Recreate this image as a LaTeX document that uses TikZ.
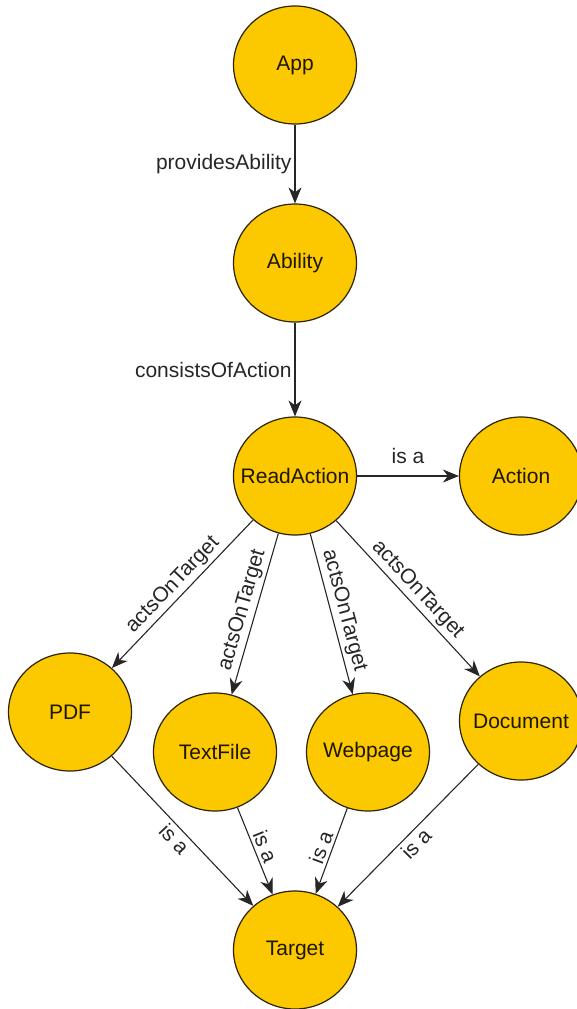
\documentclass[tikz,border=0pt]{standalone}
\usepackage{fontspec}
\setmainfont{Liberation Sans}
\usetikzlibrary{shapes.geometric,arrows.meta}
\definecolor{gold}{RGB}{252,200,0}
\definecolor{rim}{RGB}{45,35,5}
\definecolor{ink}{RGB}{30,22,0}
\newcommand{\nodelbl}[1]{\makebox[0pt]{#1}}
\tikzset{
  concept/.style={ellipse, draw=rim, fill=gold, line width=1.2pt,
    minimum width=123pt, minimum height=118pt, inner sep=0pt,
    text=ink, font=\fontsize{21}{25}\selectfont},
  rel/.style={draw=black!85, line width=1.1pt,
    -{Stealth[length=16pt,width=13pt,inset=5pt]}},
  lbl/.style={font=\fontsize{21}{25}\selectfont, text=black!85, inner sep=3pt}
}
\begin{document}
\begin{tikzpicture}[x=1pt,y=-1pt]
\useasboundingbox (0,0) rectangle (577,1009);
\node[concept] (app) at (295,65) {\nodelbl{App}};
\node[concept] (ability) at (295,263) {\nodelbl{Ability}};
\node[concept] (read) at (295,476) {\nodelbl{ReadAction}};
\node[concept] (action) at (521,476) {\nodelbl{Action}};
\node[concept] (pdf) at (70,712) {\nodelbl{PDF}};
\node[concept] (text) at (215,752) {\nodelbl{TextFile}};
\node[concept] (web) at (368,752) {\nodelbl{Webpage}};
\node[concept] (doc) at (521,721) {\nodelbl{Document}};
\node[concept] (target) at (295,950) {\nodelbl{Target}};

\draw[rel] (app) -- node[lbl, midway, left] {providesAbility} (ability);
\draw[rel] (ability) -- node[lbl, midway, left] {consistsOfAction} (read);
\draw[rel] (read) -- node[lbl, midway, above, yshift=9pt] {is a} (action);

\draw[rel] (read) -- node[lbl, midway, above, sloped] {actsOnTarget} (pdf);
\draw[rel] (read) -- node[lbl, midway, above, sloped] {actsOnTarget} (text);
\draw[rel] (read) -- node[lbl, midway, above, sloped] {actsOnTarget} (web);
\draw[rel] (read) -- node[lbl, midway, above, sloped] {actsOnTarget} (doc);

\draw[rel] (pdf) -- node[lbl, midway, below, sloped] {is a} (target);
\draw[rel] (text) -- node[lbl, midway, above, sloped] {is a} (target);
\draw[rel] (web) -- node[lbl, midway, above, sloped] {is a} (target);
\draw[rel] (doc) -- node[lbl, midway, below, sloped] {is a} (target);
\end{tikzpicture}
\end{document}
